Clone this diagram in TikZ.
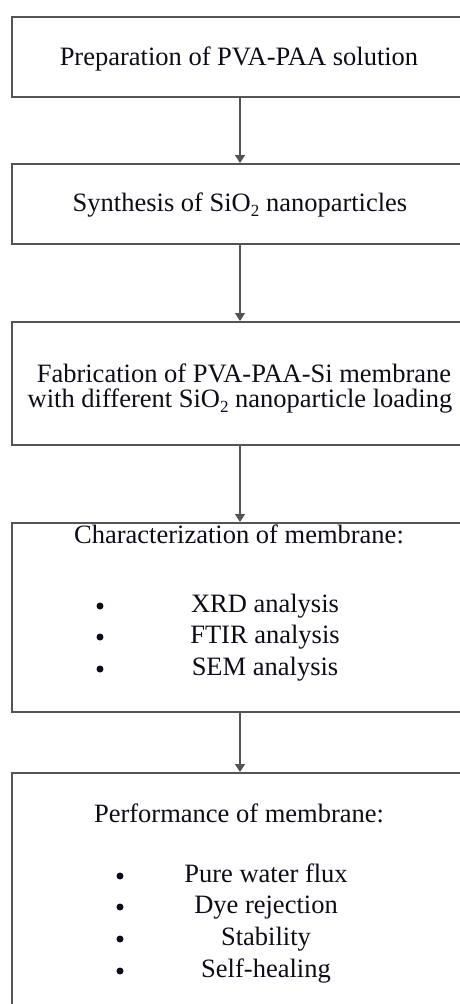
\documentclass[tikz,border=0pt]{standalone}
\usepackage{fontspec}
\setmainfont{Liberation Serif}
\usetikzlibrary{arrows.meta}
\definecolor{linegray}{rgb}{0.33,0.33,0.33}
\definecolor{txt}{rgb}{0.05,0.05,0.1}
\newcommand{\subtwo}{\raisebox{-5pt}{\fontsize{17}{17}\selectfont 2}}
\begin{document}
\begin{tikzpicture}[x=1pt,y=-1pt,
  stepbox/.style={draw=linegray, line width=2pt, rectangle, minimum width=456pt, inner sep=0pt},
  label/.style={anchor=base, inner sep=0pt, text=txt, font=\fontsize{26.5}{26.5}\selectfont},
  bul/.style={circle, fill=txt, inner sep=0pt, minimum size=7pt},
  conn/.style={draw=linegray, line width=1.5pt, -{Triangle[length=8pt,width=10pt]}}]
\useasboundingbox (0,0) rectangle (460,1004);
\clip (0,0) rectangle (460,1004);
\fill[white] (0,0) rectangle (460,1004);
% boxes
\node[stepbox, minimum height=80pt] (b1) at (240,57) {};
\node[stepbox, minimum height=80pt] (b2) at (240,204) {};
\node[stepbox, minimum height=123pt] (b3) at (240,383.5) {};
\node[stepbox, minimum height=189pt] (b4) at (240,617.5) {};
\node[stepbox, minimum height=280pt] (b5) at (240,913) {};
% connectors
\draw[conn] (b1.south) -- (b2.north);
\draw[conn] (b2.south) -- (b3.north);
\draw[conn] (b3.south) -- (b4.north);
\draw[conn] (b4.south) -- (b5.north);
% texts
\node[label] (t1) at (239,65) {Preparation of PVA-PAA solution};
\node[label] (t2) at (240,211) {Synthesis of SiO\subtwo{} nanoparticles};
\node[label] (t3a) at (244,382) {Fabrication of PVA-PAA-Si membrane};
\node[label] (t3b) at (240,407) {with different SiO\subtwo{} nanoparticle loading};
\node[label] (t4) at (239,543) {Characterization of membrane:};
\node[bul] (d41) at (100,606) {};
\node[bul] (d42) at (100,637) {};
\node[bul] (d43) at (100,669) {};
\node[label] (t41) at (265,612) {XRD analysis};
\node[label] (t42) at (265,643) {FTIR analysis};
\node[label] (t43) at (265,675) {SEM analysis};
\node[label] (t5) at (239,822) {Performance of membrane:};
\node[bul] (d51) at (120,876) {};
\node[bul] (d52) at (120,907) {};
\node[bul] (d53) at (120,939) {};
\node[bul] (d54) at (120,971) {};
\node[label] (t51) at (266,882) {Pure water flux};
\node[label] (t52) at (266,913) {Dye rejection};
\node[label] (t53) at (266,945) {Stability};
\node[label] (t54) at (266,977) {Self-healing};
\end{tikzpicture}
\end{document}
